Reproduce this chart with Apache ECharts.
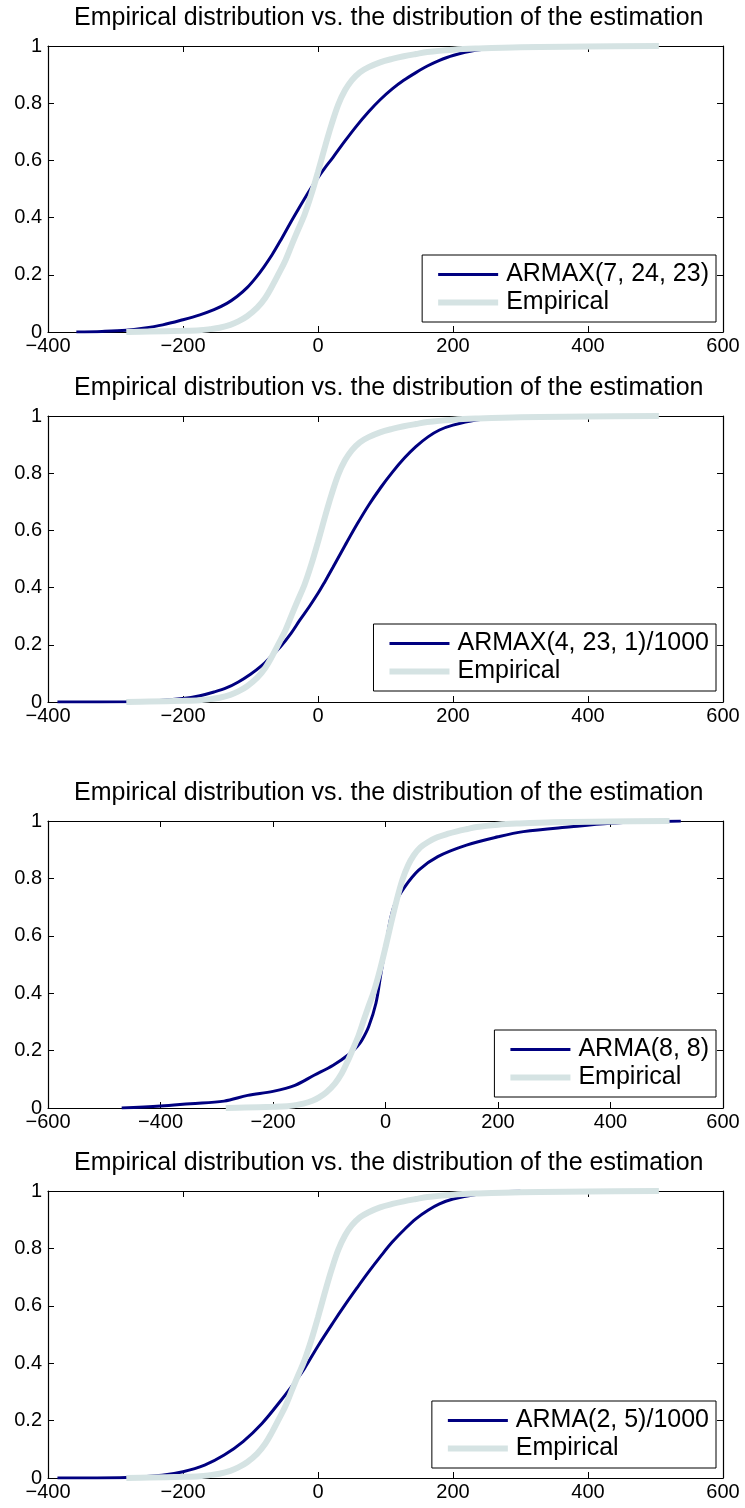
<!DOCTYPE html>
<html>
<head>
<meta charset="utf-8">
<script src="https://cdn.jsdelivr.net/npm/echarts@6/dist/echarts.min.js"></script>
<style>
  html, body { margin: 0; padding: 0; background: #ffffff; }
  #chart { width: 745px; height: 1508px; }
</style>
</head>
<body>
<div id="chart"></div>
<script>
// Empirical CDF of the residual errors (shared by all four panels)
const empiricalX = [-284, -250, -200, -175, -160, -146, -130, -118, -105, -90, -78, -68, -58, -48, -38, -30, -20, -10, 0, 10, 20, 30, 40, 50, 62, 75, 92, 110, 127, 145, 162, 200, 233, 300, 400, 505];
const empiricalY = [0, 0.002, 0.004, 0.006, 0.01, 0.015, 0.025, 0.037, 0.055, 0.085, 0.12, 0.16, 0.205, 0.252, 0.31, 0.355, 0.41, 0.48, 0.56, 0.645, 0.725, 0.795, 0.845, 0.88, 0.908, 0.926, 0.943, 0.955, 0.964, 0.972, 0.979, 0.987, 0.991, 0.996, 0.998, 1.0];

// Model estimation CDFs
const armax72423X = [-358, -320, -284, -259, -230, -200, -175, -154, -135, -120, -105, -92, -80, -68, -55, -42, -30, -20, -10, 0, 10, 22, 40, 57, 75, 92, 110, 127, 145, 162, 180, 200, 233, 270, 303, 350];
const armax72423Y = [0, 0.002, 0.006, 0.013, 0.025, 0.043, 0.06, 0.078, 0.1, 0.124, 0.155, 0.19, 0.228, 0.27, 0.322, 0.377, 0.426, 0.466, 0.504, 0.54, 0.573, 0.61, 0.668, 0.72, 0.77, 0.812, 0.85, 0.88, 0.907, 0.93, 0.95, 0.967, 0.985, 0.994, 0.998, 1.0];

const armax4231X = [-386, -284, -240, -200, -175, -154, -135, -118, -100, -83, -70, -55, -40, -27, -13, 0, 10, 22, 40, 58, 75, 93, 110, 128, 145, 163, 180, 200, 234, 270, 304, 350];
const armax4231Y = [0, 0.001, 0.004, 0.012, 0.022, 0.035, 0.05, 0.07, 0.097, 0.128, 0.158, 0.195, 0.24, 0.286, 0.333, 0.38, 0.42, 0.47, 0.547, 0.622, 0.688, 0.75, 0.803, 0.853, 0.893, 0.927, 0.951, 0.968, 0.986, 0.994, 0.997, 1.0];

const arma88X = [-469, -400, -347, -287, -245, -200, -161, -127, -93, -63, -50, -42, -30, -17, -8, 0, 8, 17, 34, 59, 93, 144, 200, 245, 330, 400, 460, 525];
const arma88Y = [0, 0.007, 0.015, 0.024, 0.044, 0.058, 0.079, 0.114, 0.149, 0.19, 0.215, 0.236, 0.283, 0.365, 0.47, 0.56, 0.65, 0.713, 0.77, 0.829, 0.876, 0.916, 0.945, 0.963, 0.98, 0.992, 0.997, 1.0];

const arma25X = [-386, -284, -231, -200, -168, -139, -111, -83, -55, -34, -20, 0, 22, 40, 58, 75, 93, 110, 128, 145, 163, 180, 200, 234, 270, 300];
const arma25Y = [0, 0.002, 0.01, 0.022, 0.045, 0.08, 0.127, 0.19, 0.27, 0.335, 0.382, 0.46, 0.54, 0.603, 0.663, 0.718, 0.773, 0.822, 0.866, 0.903, 0.933, 0.955, 0.972, 0.988, 0.996, 1.0];

const titleText = 'Empirical distribution vs. the distribution of the estimation';
const modelNames = ['ARMAX(7, 24, 23)', 'ARMAX(4, 23, 1)/1000', 'ARMA(8, 8)', 'ARMA(2, 5)/1000'];
const modelXs = [armax72423X, armax4231X, arma88X, arma25X];
const modelYs = [armax72423Y, armax4231Y, arma88Y, arma25Y];
const xMins = [-400, -400, -600, -400];
const xMax = 600;
const xStep = 200;
const yTicks = [0, 0.2, 0.4, 0.6, 0.8, 1];

// layout of the four stacked axes boxes
const gridTops = [46, 416, 821, 1191];
const gridHeights = [286, 286, 287, 287];
const legendTops = [255, 624, 1030, 1401];

const FONT = '"Liberation Sans", Arial, Helvetica, sans-serif';
const NAVY = '#000080';
const PALE = '#d5e3e3';
const MODEL_W = 3;
const EMP_W = 6;

const zip = (xs, ys) => xs.map((x, i) => [x, ys[i]]);
const fmtX = v => (v < 0 ? '\u2212' + Math.abs(v) : String(v));

const grids = [], xAxes = [], yAxes = [], series = [], titles = [], legends = [];

for (let p = 0; p < 4; p++) {
  grids.push({ left: 48, right: 22, top: gridTops[p], height: gridHeights[p], containLabel: false });

  const frame = { show: true, onZero: false, lineStyle: { color: '#000', width: 1.2 } };
  const tick = { show: true, inside: true, length: 6, lineStyle: { color: '#000', width: 1 } };

  xAxes.push({
    type: 'value', gridIndex: p, position: 'bottom', min: xMins[p], max: xMax, interval: xStep,
    axisLine: frame, axisTick: tick, splitLine: { show: false },
    axisLabel: { show: true, margin: 4, color: '#000', fontSize: 20, fontFamily: FONT, formatter: fmtX }
  });
  xAxes.push({
    type: 'value', gridIndex: p, position: 'top', min: xMins[p], max: xMax, interval: xStep,
    axisLine: frame, axisTick: tick, splitLine: { show: false }, axisLabel: { show: false }
  });
  yAxes.push({
    type: 'value', gridIndex: p, position: 'left', min: yTicks[0], max: yTicks[yTicks.length - 1], interval: 0.2,
    axisLine: frame, axisTick: tick, splitLine: { show: false },
    axisLabel: { show: true, margin: 6, color: '#000', fontSize: 20, fontFamily: FONT,
      formatter: v => String(Math.round(v * 10) / 10) }
  });
  yAxes.push({
    type: 'value', gridIndex: p, position: 'right', min: 0, max: 1, interval: 0.2,
    axisLine: frame, axisTick: tick, splitLine: { show: false }, axisLabel: { show: false }
  });

  series.push({
    name: modelNames[p], type: 'line', xAxisIndex: 2 * p, yAxisIndex: 2 * p,
    data: zip(modelXs[p], modelYs[p]), symbol: 'none', smooth: 0.35,
    lineStyle: { color: NAVY, width: MODEL_W }, itemStyle: { color: NAVY }, animation: false
  });
  series.push({
    name: 'Empirical', type: 'line', xAxisIndex: 2 * p, yAxisIndex: 2 * p,
    data: zip(empiricalX, empiricalY), symbol: 'none', smooth: 0.35,
    lineStyle: { color: PALE, width: EMP_W }, itemStyle: { color: PALE }, animation: false
  });

  titles.push({
    text: titleText, left: 74, top: gridTops[p] - 40, padding: 0,
    textStyle: { color: '#000', fontSize: 25, fontWeight: 'normal', fontFamily: FONT }
  });

  legends.push({
    data: [
      { name: modelNames[p], lineStyle: { width: MODEL_W, color: NAVY } },
      { name: 'Empirical', lineStyle: { width: EMP_W, color: PALE } }
    ],
    orient: 'vertical', right: 29, top: legendTops[p],
    backgroundColor: '#fff', borderColor: '#000', borderWidth: 1, borderRadius: 0,
    padding: [7, 7, 7, 13], itemGap: 3, itemWidth: 60, itemHeight: 14, selectedMode: false,
    itemStyle: { opacity: 0 },
    textStyle: { color: '#000', fontSize: 25, fontFamily: FONT, padding: [0, 0, 0, 3] }
  });
}

const chart = echarts.init(document.getElementById('chart'), null, { renderer: 'canvas' });
chart.setOption({
  animation: false,
  backgroundColor: '#fff',
  title: titles,
  legend: legends,
  grid: grids,
  xAxis: xAxes,
  yAxis: yAxes,
  series: series
});
</script>
</body>
</html>
